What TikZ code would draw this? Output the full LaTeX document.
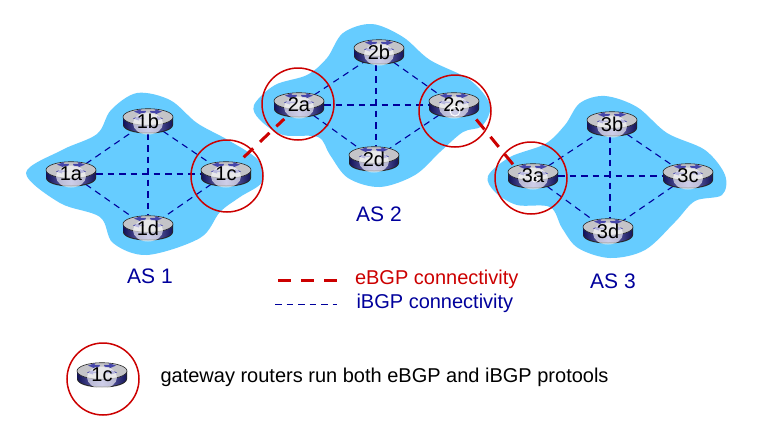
\documentclass[tikz,border=0pt]{standalone}
\usepackage{fontspec}
\setmainfont{Liberation Sans}
\usetikzlibrary{shapes.geometric}
\pgfdeclarelayer{blobs}
\pgfdeclarelayer{links}
\pgfdeclarelayer{rings}
\pgfsetlayers{blobs,links,main,rings}
\definecolor{cloud}{RGB}{102,204,255}
\definecolor{ebgp}{RGB}{204,0,0}
\definecolor{ibgp}{RGB}{0,0,156}
\definecolor{rtop}{RGB}{196,196,200}
\definecolor{rside}{RGB}{70,70,170}
\definecolor{rdark}{RGB}{20,20,90}
\tikzset{
  cloudshape/.style={fill=cloud,draw=none},
  routernode/.style={shape=ellipse,minimum width=50pt,minimum height=25pt,inner sep=0pt,font=\fontsize{20}{20}\selectfont,text=black},
  ibgplink/.style={draw=ibgp,line width=1.1pt,dash pattern=on 6.5pt off 5pt},
  ebgplink/.style={draw=ebgp,line width=3pt,dash pattern=on 13pt off 9.5pt},
  ring/.style={draw=ebgp,line width=1.5pt,circle,minimum size=72pt,inner sep=0pt},
  aslabel/.style={text=ibgp,font=\fontsize{21}{21}\selectfont},
  legendtext/.style={anchor=west,font=\fontsize{20}{20}\selectfont},
}
% \routerat{name}{x}{y}{label}
\newcommand{\routerat}[4]{%
  \begin{scope}[shift={(#2,#3)}]
    \fill[black!85] (-25,-4) -- (-25,4) .. controls (-25,9) and (-14,12.5) .. (0,12.5) .. controls (14,12.5) and (25,9) .. (25,4) -- (25,-4) -- cycle;
    \shade[left color=rdark,right color=rdark,middle color=rside!70!white] (-24.3,-4) -- (-24.3,3.5) .. controls (-24.3,8) and (-13.5,11.5) .. (0,11.5) .. controls (13.5,11.5) and (24.3,8) .. (24.3,3.5) -- (24.3,-4) -- cycle;
    \fill[rtop,draw=black!85,line width=.6pt] (0,-4) ellipse[x radius=25,y radius=8.3];
    \fill[rside] (-3,-7.5) -- (-8,-8) -- (-7,-6.5) -- (-14,-9.5) -- (-7,-11.8) -- (-7.5,-10.2) -- (-2,-10) -- cycle;
    \fill[rside] (3,-7.5) -- (8,-8) -- (7,-6.5) -- (14,-9.5) -- (7,-11.8) -- (7.5,-10.2) -- (2,-10) -- cycle;
    \fill[rside] (-4,-3.5) -- (-9,-3.5) -- (-9,-5) -- (-15,-2.5) -- (-9,-.5) -- (-9,-2) -- (-4,-2) -- cycle;
    \fill[rside] (4,-3.5) -- (9,-3.5) -- (9,-5) -- (15,-2.5) -- (9,-.5) -- (9,-2) -- (4,-2) -- cycle;
    \fill[white,opacity=.62] (0,2.5) ellipse[x radius=15,y radius=11];
  \end{scope}
  \node[routernode] (#1) at (#2,#3) {\raisebox{-3.5pt}{#4}};
}
\begin{document}
\begin{tikzpicture}[x=1pt,y=-1pt]
\useasboundingbox (0,0) rectangle (764,421);
\begin{pgfonlayer}{blobs}
\fill[white] (0,0) rectangle (764,421);
\fill[cloudshape] plot[smooth cycle,tension=.55] coordinates {(26,173) (62,150) (97,134) (111,110) (137,93) (170,100) (197,123) (228,140) (258,160) (262,182) (240,197) (220,212) (200,238) (147,255) (113,243) (100,217) (60,203)};
\fill[cloudshape] plot[smooth cycle,tension=.55] coordinates {(254,105) (275,85) (307,75) (327,58) (343,33) (372,24) (403,37) (430,60) (470,80) (490,105) (482,126) (463,132) (440,152) (415,175) (380,187) (348,178) (330,155) (318,137) (283,135) (260,120)};
\fill[cloudshape] plot[smooth cycle,tension=.55] coordinates {(488,176) (510,157) (545,144) (565,125) (580,103) (605,96) (637,107) (667,133) (705,150) (725,175) (722,195) (695,201) (675,222) (645,250) (610,258) (578,248) (562,228) (550,207) (517,205) (495,192)};
\end{pgfonlayer}
\routerat{r1a}{71}{174}{1a}
\routerat{r1b}{148}{121}{1b}
\routerat{r1c}{226}{174}{1c}
\routerat{r1d}{148}{228}{1d}
\routerat{r2a}{299}{105}{2a}
\routerat{r2b}{379}{52}{2b}
\routerat{r2c}{454}{105}{2c}
\routerat{r2d}{374}{159}{2d}
\routerat{r3a}{533}{176}{3a}
\routerat{r3b}{612}{124}{3b}
\routerat{r3c}{688}{176}{3c}
\routerat{r3d}{608}{231}{3d}
\routerat{rkey}{102}{375}{1c}
\draw[white,line width=1pt] (455,111) circle[radius=5];
\draw[white,line width=.8pt] (535,179) circle[radius=3];
\begin{pgfonlayer}{links}
\foreach \g in {1,2,3}{
  \draw[ibgplink] (r\g a) -- (r\g b);
  \draw[ibgplink] (r\g a) -- (r\g c);
  \draw[ibgplink] (r\g a) -- (r\g d);
  \draw[ibgplink] (r\g b) -- (r\g c);
  \draw[ibgplink] (r\g c) -- (r\g d);
}
\draw[ibgplink] (r1b) -- (r1d);
\draw[ibgplink] ([xshift=-3pt]r2b.south) -- ([xshift=2pt]r2d.north);
\draw[ibgplink] ([xshift=-2pt]r3b.south) -- ([xshift=2pt]r3d.north);
\draw[ebgplink,shorten <=8pt,shorten >=4pt] (r1c) -- (r2a);
\draw[ebgplink,shorten <=7pt] (r2c.south east) -- (r3a.north west);
\end{pgfonlayer}
\begin{pgfonlayer}{rings}
\node[ring] (g1c) at (227,176) {};
\node[ring] (g2a) at (298,104) {};
\node[ring] (g2c) at (455,111) {};
\node[ring] (g3a) at (531,178) {};
\node[ring] (gkey) at (103,379) {};
\end{pgfonlayer}
\node[aslabel] (as1) at (150,276) {AS 1};
\node[aslabel] (as2) at (379,214) {AS 2};
\node[aslabel] (as3) at (613,281) {AS 3};
\coordinate (ea) at (278,280);
\coordinate (eb) at (339,280);
\coordinate (ia) at (275,304);
\coordinate (ib) at (337,304);
\draw[ebgplink,dash pattern=on 13pt off 10pt] (ea) -- (eb);
\draw[ibgplink,line width=.9pt] (ia) -- (ib);
\node[legendtext,text=ebgp] (le) at (351.5,279.5) {eBGP connectivity};
\node[legendtext,text=ibgp] (li) at (353,303) {iBGP connectivity};
\node[legendtext,text=black] (lg) at (157,377.5) {gateway routers run both eBGP and iBGP protools};
\end{tikzpicture}
\end{document}
